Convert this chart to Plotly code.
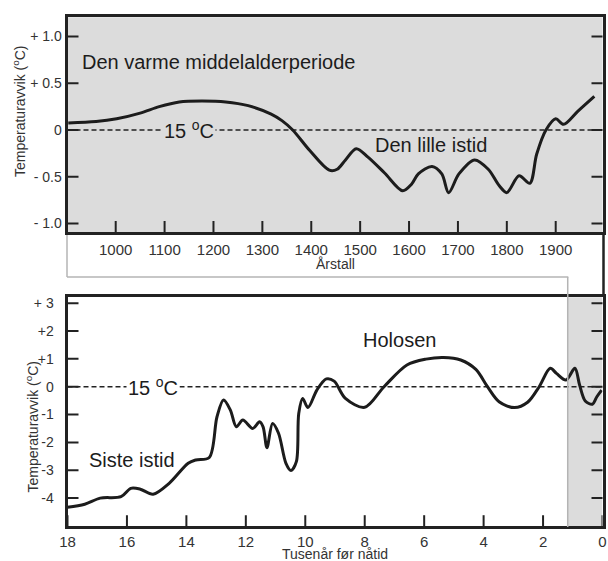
import plotly.graph_objects as go

# ---- data -------------------------------------------------------------
# Last millennium: temperature anomaly (°C) relative to 15 °C
years = [903, 960, 1002, 1050, 1089, 1130, 1176, 1225, 1271, 1318, 1340, 1362,
         1397, 1437, 1453, 1470, 1492, 1516, 1550, 1587, 1605, 1619, 1647, 1667,
         1681, 1702, 1734, 1762, 1785, 1800, 1825, 1847, 1861, 1880, 1900, 1916,
         1945, 1979]
temp_recent = [0.075, 0.09, 0.12, 0.18, 0.25, 0.30, 0.31, 0.30, 0.26, 0.17, 0.10, 0.0,
               -0.22, -0.43, -0.42, -0.32, -0.20, -0.29, -0.46, -0.65, -0.58, -0.47, -0.39, -0.47,
               -0.67, -0.47, -0.32, -0.42, -0.60, -0.67, -0.49, -0.57, -0.26, 0.0, 0.12, 0.06,
               0.20, 0.36]

# Last 18 000 years: thousands of years before present, anomaly (°C)
kyr = [18.0, 17.42, 16.9, 16.2, 15.87, 15.55, 15.12, 14.58, 13.94, 13.68, 13.23,
       12.97, 12.75, 12.52, 12.32, 12.1, 11.77, 11.54, 11.42, 11.29, 11.1, 10.9,
       10.65, 10.48, 10.3, 10.22, 10.09, 9.91, 9.61, 9.29, 9.03, 8.65, 8.0, 7.35,
       6.58, 5.94, 5.35, 4.77, 4.26, 3.87, 3.48, 2.96, 2.52, 2.13, 1.76, 1.55,
       1.23, 0.93, 0.77, 0.58, 0.34, 0.19, 0.03]
temp_holocene = [-4.33, -4.22, -4.0, -3.95, -3.65, -3.68, -3.86, -3.47, -2.75, -2.63, -2.54,
                 -1.08, -0.48, -0.84, -1.44, -1.2, -1.5, -1.26, -1.44, -2.19, -1.32, -1.67,
                 -2.75, -3.01, -2.69, -0.96, -0.42, -0.75, -0.12, 0.28, 0.2, -0.42, -0.74, 0.0,
                 0.78, 0.99, 1.05, 0.96, 0.62, 0.0, -0.54, -0.75, -0.56, 0.0, 0.66, 0.48,
                 0.24, 0.66, 0.06, -0.51, -0.63, -0.36, -0.12]

top_xticks = [1000, 1100, 1200, 1300, 1400, 1500, 1600, 1700, 1800, 1900]
top_yticks = [1.0, 0.5, 0.0, -0.5, -1.0]
top_ytext = ["+ 1.0", "+ 0.5", "0", "- 0.5", "- 1.0"]
bot_xticks = [18, 16, 14, 12, 10, 8, 6, 4, 2, 0]
bot_yticks = [3, 2, 1, 0, -1, -2, -3, -4]
bot_ytext = ["+ 3", "+2", "+1", "0", "-1", "-2", "-3", "-4"]

# span of the last millennium in thousands of years before present
recent_span_kyr = 1.17

# ---- layout helpers (pixel -> paper) ------------------------------------
W, H = 608, 561
def fx(p):
    return p / W
def fy(p):
    return 1 - p / H

FONT = "Liberation Sans, Arial, sans-serif"
INK = "#1c1c1c"
TICK_INK = "#333333"
PANEL = "#dcdcdc"
FRAME = "#222222"
CONNECT = "#b4b4b4"
TICK_LEN = 11

fig = go.Figure()

fig.add_trace(go.Scatter(x=years, y=temp_recent, mode="lines",
                         line=dict(color=INK, width=3, shape="spline", smoothing=0.9),
                         xaxis="x", yaxis="y", hoverinfo="skip", showlegend=False))
fig.add_trace(go.Scatter(x=kyr, y=temp_holocene, mode="lines",
                         line=dict(color=INK, width=3, shape="spline", smoothing=0.9),
                         xaxis="x2", yaxis="y2", hoverinfo="skip", showlegend=False))

axis_common = dict(showgrid=False, zeroline=False, showline=True, linewidth=3,
                   linecolor=FRAME, ticks="", mirror=True, automargin=False,
                   fixedrange=True)

fig.update_layout(
    width=W, height=H,
    margin=dict(l=0, r=0, t=0, b=0, pad=0),
    paper_bgcolor="white",
    plot_bgcolor="rgba(0,0,0,0)",
    font=dict(family=FONT, color=TICK_INK),
    xaxis=dict(domain=[fx(67.5), fx(602.5)], range=[901.4, 1995.7], anchor="y",
               tickvals=top_xticks, tickfont=dict(size=15), ticklabelstandoff=2,
               **axis_common),
    yaxis=dict(domain=[fy(232), fy(17.2)], range=[-1.091, 1.206], anchor="x",
               tickvals=top_yticks, ticktext=top_ytext,
               tickfont=dict(size=14), **axis_common),
    xaxis2=dict(domain=[fx(67.5), fx(602.5)], range=[18, 0], anchor="y2",
                tickvals=bot_xticks, tickfont=dict(size=15), **axis_common),
    yaxis2=dict(domain=[fy(526.2), fy(297.2)], range=[-5.009, 3.214], anchor="x2",
                tickvals=bot_yticks, ticktext=bot_ytext,
                tickfont=dict(size=14), ticklabelstandoff=8, **axis_common),
)

shapes = []
# grey background of the upper panel, grey band for the last millennium below
shapes.append(dict(type="rect", xref="x domain", yref="y domain", x0=0, x1=1, y0=0, y1=1,
                   fillcolor=PANEL, line=dict(width=0), layer="below"))
shapes.append(dict(type="rect", xref="x2", yref="y2 domain", x0=recent_span_kyr, x1=0,
                   y0=0, y1=1, fillcolor=PANEL, line=dict(width=0), layer="below"))
# 15 °C reference lines
for xr, yr in (("x domain", "y"), ("x2 domain", "y2")):
    shapes.append(dict(type="line", xref=xr, yref=yr, x0=0, x1=1, y0=0, y1=0,
                       line=dict(color=FRAME, width=1.5, dash="5px,3px"), layer="below"))

# inward tick marks: along the bottom edge, and on both left and right edges
tick_line = dict(color=FRAME, width=2)
for xa, ya, xt in (("x", "y", top_xticks), ("x2", "y2", bot_xticks)):
    for v in xt:
        shapes.append(dict(type="line", xref=xa, yref=ya + " domain", x0=v, x1=v,
                           ysizemode="pixel", yanchor=0, y0=0, y1=TICK_LEN,
                           line=tick_line))
for xa, ya, yt in (("x", "y", top_yticks), ("x2", "y2", bot_yticks)):
    for v in yt:
        for side, sgn in ((0, 1), (1, -1)):
            shapes.append(dict(type="line", xref=xa + " domain", yref=ya, y0=v, y1=v,
                               xsizemode="pixel", xanchor=side, x0=0, x1=sgn * TICK_LEN,
                               line=tick_line))

# connector from the upper panel to the grey band
gap_y = fy(277)
shapes.append(dict(type="line", xref="paper", yref="paper", x0=fx(67), x1=fx(67),
                   y0=fy(235), y1=gap_y, line=dict(color=CONNECT, width=1.5)))
shapes.append(dict(type="line", xref="paper", yref="paper", x0=fx(67), x1=fx(568.3),
                   y0=gap_y, y1=gap_y, line=dict(color=CONNECT, width=1.5)))
shapes.append(dict(type="line", xref="x2", yref="paper", x0=recent_span_kyr, x1=recent_span_kyr,
                   y0=gap_y, y1=fy(527), line=dict(color=CONNECT, width=1.5)))
shapes.append(dict(type="line", xref="paper", yref="paper", x0=fx(603.5), x1=fx(603.5),
                   y0=fy(234), y1=fy(296), line=dict(color=FRAME, width=2.5)))
fig.update_layout(shapes=shapes)

ann = []
def label(text, x, y, xref, yref, size=20, xanchor="center", bg=None):
    ann.append(dict(text=text, x=x, y=y, xref=xref, yref=yref, showarrow=False,
                    xanchor=xanchor, yanchor="middle",
                    font=dict(family=FONT, size=size, color=INK),
                    bgcolor=bg, borderpad=1))

label("Den varme middelalderperiode", 927, 0.727, "x", "y", xanchor="left")
label("15 <sup>o</sup>C", 1150, 0.0, "x", "y", bg=PANEL)
label("Den lille istid", 1526, -0.16, "x", "y", xanchor="left")
label("Holosen", 6.82, 1.68, "x2", "y2")
label("15 <sup>o</sup>C", 15.12, 0.0, "x2", "y2", bg="white")
label("Siste istid", 17.35, -2.63, "x2", "y2", xanchor="left")

# axis titles
for text, x, y, ang in (("Temperaturavvik (<sup>o</sup>C)", 19, 111, -90),
                        ("Temperaturavvik (<sup>o</sup>C)", 32.5, 427, -90),
                        ("Årstall", 335, 264, 0),
                        ("Tusenår før nåtid", 335, 554, 0)):
    ann.append(dict(text=text, x=fx(x), y=fy(y), xref="paper", yref="paper",
                    showarrow=False, textangle=ang, xanchor="center", yanchor="middle",
                    font=dict(family=FONT, size=14, color=TICK_INK)))

fig.update_layout(annotations=ann)

fig.write_html("out.html")
